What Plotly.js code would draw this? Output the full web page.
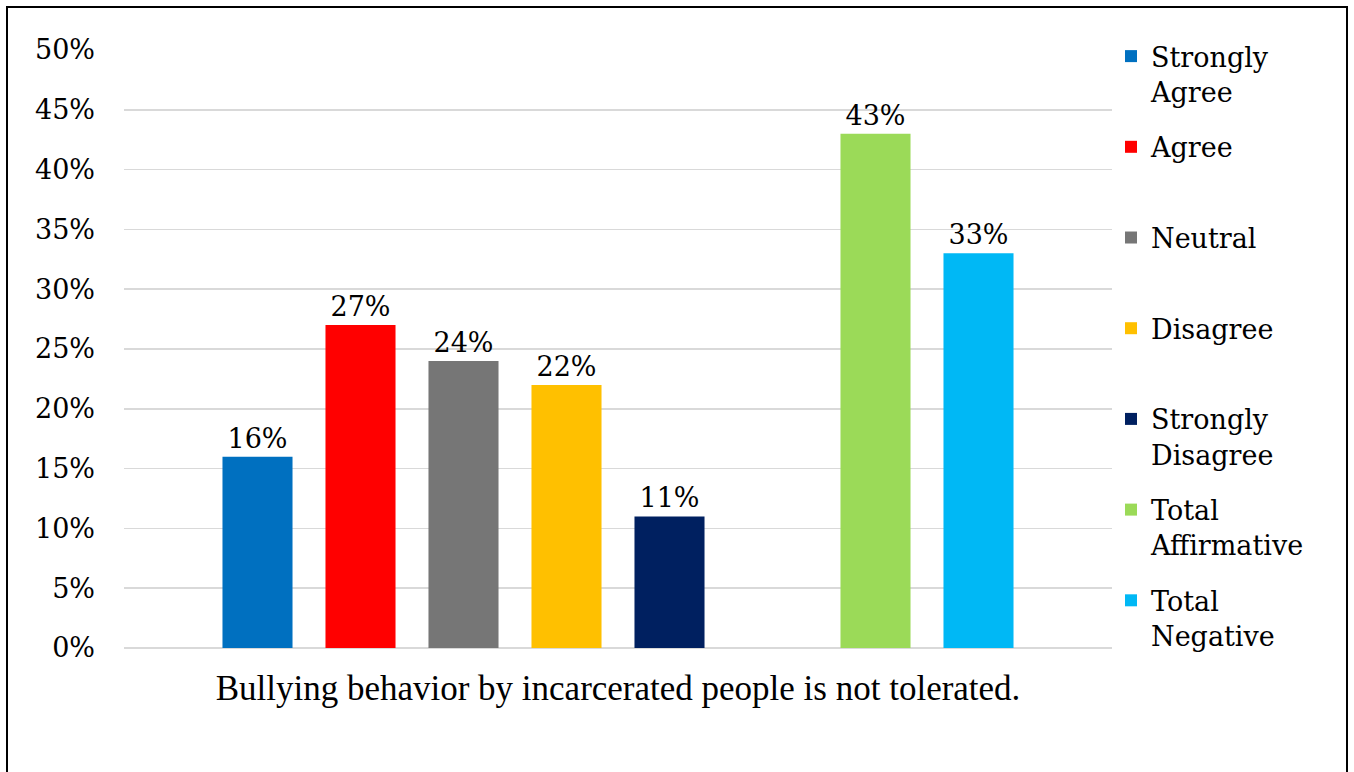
<!DOCTYPE html>
<html>
<head>
<meta charset="utf-8">
<script src="https://cdn.plot.ly/plotly-3.0.1.min.js"></script>
<style>
  html, body { margin: 0; padding: 0; background: #fff; overflow: hidden; }
  #chart { width: 1354px; height: 772px; }
  #frame { position: absolute; left: 6px; top: 6px; width: 1342px; height: 800px;
           border: 2.5px solid #000; pointer-events: none; box-sizing: border-box; }
</style>
</head>
<body>
<div id="chart"></div>
<div id="frame"></div>
<script>
const category = ["Bullying behavior by incarcerated people is not tolerated."];
const seriesNames = ["Strongly<br>Agree", "Agree<br>\u00a0", "Neutral<br>\u00a0", "Disagree<br>\u00a0", "Strongly<br>Disagree", "", "Total<br>Affirmative", "Total<br>Negative"];
const seriesValues = [0.16, 0.27, 0.24, 0.22, 0.11, null, 0.43, 0.33];
const seriesColors = ["#0070C0", "#FF0000", "#767676", "#FFC000", "#002060", "#FFFFFF", "#9BDA58", "#00B8F5"];
const yTickVals = [0, 0.05, 0.10, 0.15, 0.20, 0.25, 0.30, 0.35, 0.40, 0.45, 0.50];

const serif = "DejaVu Serif, Liberation Serif, serif";

const traces = seriesNames.map((name, i) => ({
  type: "bar",
  name: name,
  x: category,
  y: [seriesValues[i]],
  marker: { color: seriesColors[i] },
  text: seriesValues[i] === null ? [""] : [Math.round(seriesValues[i] * 100) + "%"],
  textposition: "outside",
  cliponaxis: false,
  textfont: { family: serif, size: 27, color: "#000" },
  showlegend: name !== "",
  legendgroup: "g" + i,
  hoverinfo: "skip"
}));

const layout = {
  width: 1354,
  height: 772,
  paper_bgcolor: "#fff",
  plot_bgcolor: "#fff",
  margin: { l: 124, r: 242, t: 50, b: 124 },
  barmode: "group",
  bargap: 0.166,
  bargroupgap: 0.32,
  font: { family: serif, color: "#000" },
  xaxis: {
    type: "category",
    showgrid: false,
    showline: false,
    ticks: "",
    ticklabelstandoff: 16,
    tickfont: { family: "Liberation Serif, serif", size: 35, color: "#000" }
  },
  yaxis: {
    range: [0, 0.5],
    tickvals: yTickVals,
    tickformat: ".0%",
    showgrid: true,
    gridcolor: "#d9d9d9",
    gridwidth: 1.5,
    zeroline: true,
    zerolinecolor: "#d9d9d9",
    zerolinewidth: 2,
    showline: false,
    ticks: "",
    ticklabelstandoff: 28,
    tickfont: { family: serif, size: 27, color: "#000" }
  },
  legend: {
    x: 0.999,
    xanchor: "left",
    y: 1.03,
    yanchor: "top",
    traceorder: "grouped",
    tracegroupgap: 17.5,
    itemwidth: 30,
    valign: "top",
    maxheight: 772,
    font: { family: serif, size: 27, color: "#000" },
    bgcolor: "rgba(0,0,0,0)"
  }
};

Plotly.newPlot("chart", traces, layout, { displayModeBar: false, staticPlot: true });
</script>
</body>
</html>
